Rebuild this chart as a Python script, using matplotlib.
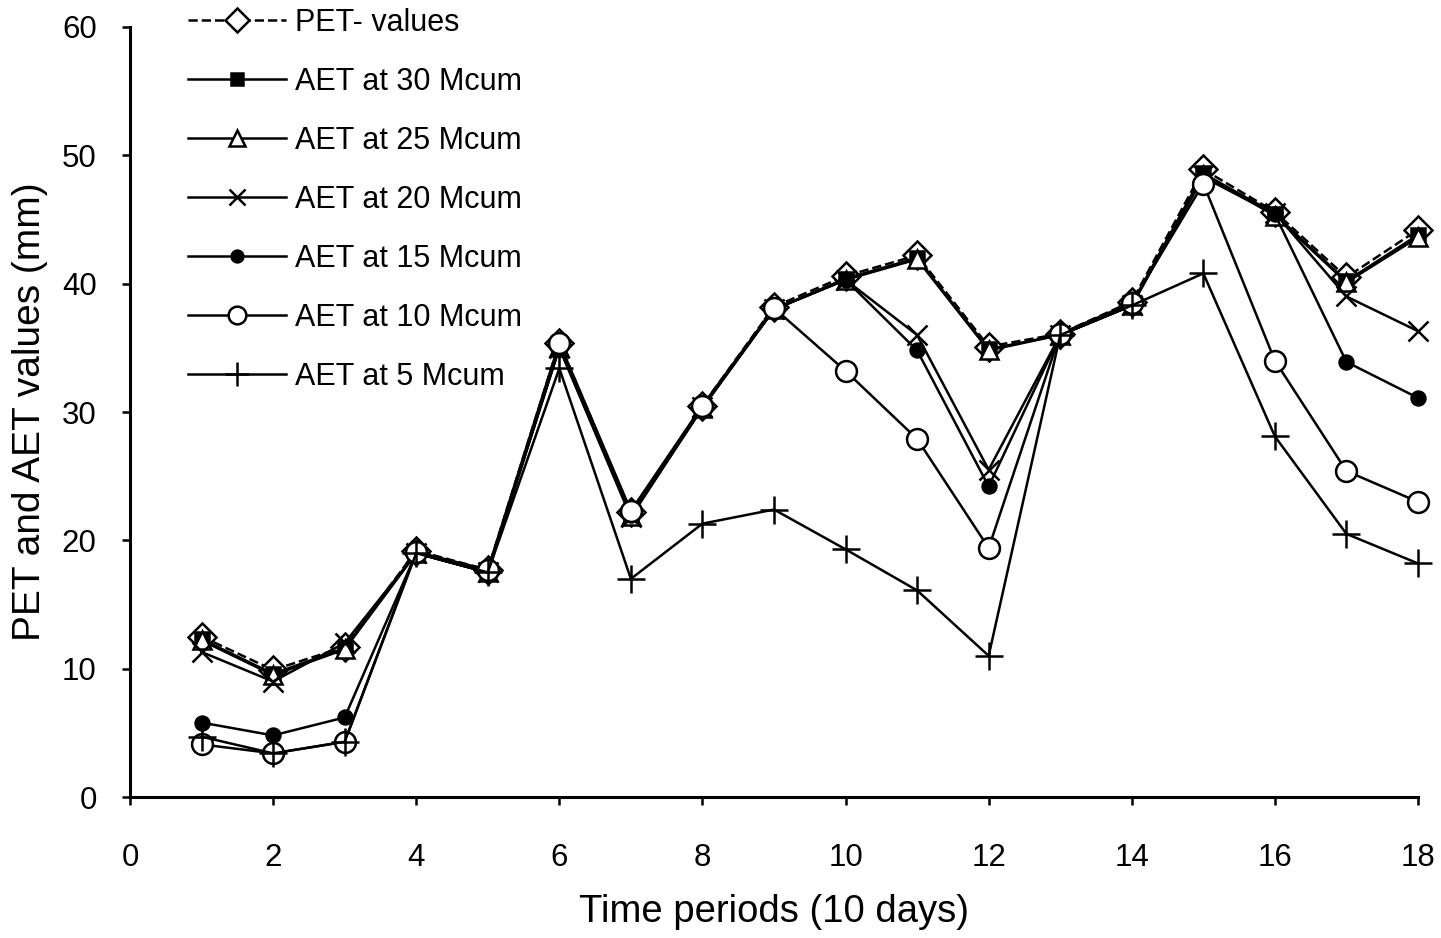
import matplotlib
matplotlib.use("Agg")
import matplotlib.pyplot as plt

plt.rcParams['font.family'] = ['Liberation Sans', 'DejaVu Sans']

periods = list(range(1, 19))

pet_values = [12.5, 9.9, 11.7, 19.2, 17.7, 35.4, 22.2, 30.5, 38.2, 40.6, 42.2, 35.1, 36.1, 38.6, 48.9, 45.6, 40.5, 44.2]
aet_30 = [12.3, 9.6, 11.6, 19.0, 17.5, 35.2, 22.0, 30.4, 38.0, 40.4, 42.0, 34.9, 36.0, 38.4, 48.6, 45.4, 40.2, 43.8]
aet_25 = [12.2, 9.5, 11.5, 19.0, 17.5, 35.1, 21.9, 30.3, 38.0, 40.3, 41.9, 34.8, 36.0, 38.3, 48.5, 45.3, 40.1, 43.6]
aet_20 = [11.3, 9.0, 12.0, 19.0, 17.5, 35.0, 21.8, 30.4, 38.0, 40.3, 36.0, 25.5, 36.0, 38.3, 48.5, 45.5, 39.0, 36.3]
aet_15 = [5.8, 4.8, 6.2, 19.0, 17.5, 35.0, 22.0, 30.4, 38.0, 40.3, 34.8, 24.2, 36.0, 38.3, 48.3, 45.4, 33.9, 31.1]
aet_10 = [4.1, 3.4, 4.3, 19.1, 17.7, 35.4, 22.3, 30.5, 38.1, 33.2, 27.9, 19.4, 36.1, 38.5, 47.8, 34.0, 25.4, 23.0]
aet_5 = [4.7, 3.4, 4.3, 19.0, 17.5, 33.4, 17.0, 21.3, 22.4, 19.3, 16.1, 11.0, 36.0, 38.3, 40.8, 28.1, 20.5, 18.2]

x_ticks = list(range(0, 19, 2))
y_ticks = list(range(0, 61, 10))

W, H = 1441, 938
fig = plt.figure(figsize=(W / 100, H / 100), dpi=100)
ax = fig.add_axes([130 / W, 1 - 797 / H, (1418 - 130) / W, (797 - 27) / H])

lw = 1.8
mew = 1.8
ax.plot(periods, pet_values, linestyle='--', color='black', lw=lw, marker='D',
        markersize=14, markerfacecolor='white', markeredgecolor='black', markeredgewidth=mew,
        label='PET- values', clip_on=False)
ax.plot(periods, aet_30, linestyle='-', color='black', lw=lw, marker='s',
        markersize=10, markerfacecolor='black', markeredgecolor='black', markeredgewidth=mew,
        label='AET at 30 Mcum', clip_on=False)
ax.plot(periods, aet_25, linestyle='-', color='black', lw=lw, marker='^',
        markersize=13, markerfacecolor='white', markeredgecolor='black', markeredgewidth=mew,
        label='AET at 25 Mcum', clip_on=False)
ax.plot(periods, aet_20, linestyle='-', color='black', lw=lw, marker='x',
        markersize=14, markeredgecolor='black', markeredgewidth=mew,
        label='AET at 20 Mcum', clip_on=False)
ax.plot(periods, aet_15, linestyle='-', color='black', lw=lw, marker='o',
        markersize=10, markerfacecolor='black', markeredgecolor='black', markeredgewidth=mew,
        label='AET at 15 Mcum', clip_on=False)
ax.plot(periods, aet_10, linestyle='-', color='black', lw=lw, marker='o',
        markersize=15, markerfacecolor='white', markeredgecolor='black', markeredgewidth=mew,
        label='AET at 10 Mcum', clip_on=False)
ax.plot(periods, aet_5, linestyle='-', color='black', lw=lw, marker='+',
        markersize=20, markeredgecolor='black', markeredgewidth=mew,
        label='AET at 5 Mcum', clip_on=False)

ax.set_xlim(0, 18)
ax.set_ylim(0, 60)
ax.set_xticks(x_ticks)
ax.set_yticks(y_ticks)

for side in ('top', 'right'):
    ax.spines[side].set_visible(False)
for side in ('left', 'bottom'):
    ax.spines[side].set_linewidth(2.2)

ax.tick_params(axis='both', direction='out', length=6, width=1.8, labelsize=22.5)
ax.tick_params(axis='x', pad=27)
ax.tick_params(axis='y', pad=18)

ax.set_xlabel('Time periods (10 days)', fontsize=27.5, labelpad=15)
ax.set_ylabel('PET and AET values (mm)', fontsize=28, labelpad=10)

leg = fig.legend(loc='upper left', bbox_to_anchor=(188 / W, 1 - 8 / H),
                 frameon=False, fontsize=22, markerscale=0.85,
                 handlelength=3.2, handletextpad=0.3, labelspacing=0.95,
                 borderpad=0, borderaxespad=0)

fig.savefig('out.png', dpi=100)
